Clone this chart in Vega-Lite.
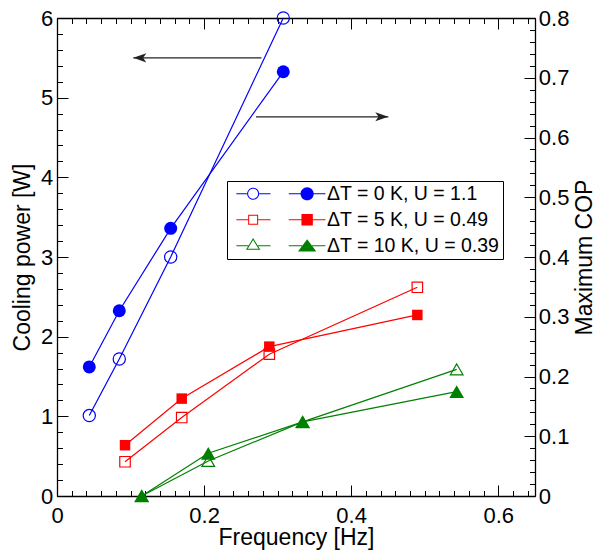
{
  "$schema": "https://vega.github.io/schema/vega-lite/v6.json",
  "width": 478,
  "height": 478,
  "autosize": "none",
  "padding": {"left": 57, "top": 18, "right": 60, "bottom": 56},
  "config": {
    "view": {"stroke": null},
    "font": "Liberation Sans",
    "axis": {
      "grid": false,
      "ticks": false,
      "domainColor": "black",
      "domainWidth": 1.3,
      "tickColor": "black",
      "tickWidth": 1,
      "labelFont": "Liberation Sans",
      "labelFontSize": 22,
      "labelColor": "black",
      "titleFont": "Liberation Sans",
      "titleFontSize": 23,
      "titleFontWeight": "normal",
      "titleColor": "black",
      "labelFlush": false,
      "labelOverlap": false
    }
  },
  "datasets": {
    "pts": [
      {"series": "ΔT = 0 K, U = 1.1", "dT": 0, "kind": "power", "f": 0.0439, "v": 1.01},
      {"series": "ΔT = 0 K, U = 1.1", "dT": 0, "kind": "power", "f": 0.0847, "v": 1.72},
      {"series": "ΔT = 0 K, U = 1.1", "dT": 0, "kind": "power", "f": 0.1546, "v": 3.0},
      {"series": "ΔT = 0 K, U = 1.1", "dT": 0, "kind": "power", "f": 0.3077, "v": 6.0},
      {"series": "ΔT = 0 K, U = 1.1", "dT": 0, "kind": "cop", "f": 0.0439, "v": 0.216},
      {"series": "ΔT = 0 K, U = 1.1", "dT": 0, "kind": "cop", "f": 0.0847, "v": 0.31},
      {"series": "ΔT = 0 K, U = 1.1", "dT": 0, "kind": "cop", "f": 0.1546, "v": 0.448},
      {"series": "ΔT = 0 K, U = 1.1", "dT": 0, "kind": "cop", "f": 0.3077, "v": 0.71},
      {"series": "ΔT = 5 K, U = 0.49", "dT": 5, "kind": "power", "f": 0.0925, "v": 0.43},
      {"series": "ΔT = 5 K, U = 0.49", "dT": 5, "kind": "power", "f": 0.1696, "v": 0.985},
      {"series": "ΔT = 5 K, U = 0.49", "dT": 5, "kind": "power", "f": 0.2887, "v": 1.78},
      {"series": "ΔT = 5 K, U = 0.49", "dT": 5, "kind": "power", "f": 0.49, "v": 2.62},
      {"series": "ΔT = 5 K, U = 0.49", "dT": 5, "kind": "cop", "f": 0.0925, "v": 0.085},
      {"series": "ΔT = 5 K, U = 0.49", "dT": 5, "kind": "cop", "f": 0.1696, "v": 0.163},
      {"series": "ΔT = 5 K, U = 0.49", "dT": 5, "kind": "cop", "f": 0.2887, "v": 0.25},
      {"series": "ΔT = 5 K, U = 0.49", "dT": 5, "kind": "cop", "f": 0.49, "v": 0.303},
      {"series": "ΔT = 10 K, U = 0.39", "dT": 10, "kind": "power", "f": 0.1152, "v": 0.0},
      {"series": "ΔT = 10 K, U = 0.39", "dT": 10, "kind": "power", "f": 0.2057, "v": 0.44},
      {"series": "ΔT = 10 K, U = 0.39", "dT": 10, "kind": "power", "f": 0.334, "v": 0.93},
      {"series": "ΔT = 10 K, U = 0.39", "dT": 10, "kind": "power", "f": 0.5435, "v": 1.59},
      {"series": "ΔT = 10 K, U = 0.39", "dT": 10, "kind": "cop", "f": 0.1152, "v": 0.0},
      {"series": "ΔT = 10 K, U = 0.39", "dT": 10, "kind": "cop", "f": 0.2057, "v": 0.0715},
      {"series": "ΔT = 10 K, U = 0.39", "dT": 10, "kind": "cop", "f": 0.334, "v": 0.124},
      {"series": "ΔT = 10 K, U = 0.39", "dT": 10, "kind": "cop", "f": 0.5435, "v": 0.1746}
    ],
    "arrows": [
      {"from": 0.278, "to": 0.1038, "y": 5.5},
      {"from": 0.2706, "to": 0.4505, "y": 4.76}
    ]
  },
  "layer": [
    {
      "data": {"name": "pts"},
      "transform": [{"filter": "datum.kind === 'power'"}],
      "encoding": {
        "x": {"field": "f", "type": "quantitative", "scale": {"domain": [0, 0.65], "nice": false},
          "axis": {"orient": "bottom", "values": [0, 0.2, 0.4, 0.6], "format": "~g", "labelPadding": 9, "title": "Frequency [Hz]", "titlePadding": 0}},
        "y": {"field": "v", "type": "quantitative", "scale": {"domain": [0, 6], "nice": false},
          "axis": {"orient": "left", "values": [0, 1, 2, 3, 4, 5, 6], "format": "~g", "labelPadding": 4.3, "title": "Cooling power [W]", "titlePadding": 6.4}},
        "color": {"field": "series", "type": "nominal",
          "scale": {"domain": ["ΔT = 0 K, U = 1.1", "ΔT = 5 K, U = 0.49", "ΔT = 10 K, U = 0.39"], "range": ["#0000ff", "#ff0000", "#008000"]},
          "legend": null}
      },
      "layer": [
        {"mark": {"type": "line", "strokeWidth": 1.2}},
        {"transform": [{"filter": "datum.dT === 0"}], "mark": {"type": "point", "shape": "circle", "filled": false, "size": 150, "strokeWidth": 1.2, "opacity": 1}},
        {"transform": [{"filter": "datum.dT === 5"}], "mark": {"type": "point", "shape": "square", "filled": false, "size": 110, "strokeWidth": 1.2, "opacity": 1}},
        {"transform": [{"filter": "datum.dT === 10"}], "mark": {"type": "point", "shape": "triangle-up", "filled": false, "size": 160, "strokeWidth": 1.2, "opacity": 1}}
      ]
    },
    {
      "data": {"name": "pts"},
      "transform": [{"filter": "datum.kind === 'cop'"}],
      "encoding": {
        "x": {"field": "f", "type": "quantitative", "scale": {"domain": [0, 0.65], "nice": false},
          "axis": {"orient": "top", "values": [0, 0.2, 0.4, 0.6], "labels": false, "title": null}},
        "y": {"field": "v", "type": "quantitative", "scale": {"domain": [0, 0.8], "nice": false},
          "axis": {"orient": "right", "values": [0, 0.1, 0.2, 0.3, 0.4, 0.5, 0.6, 0.7, 0.8], "format": "~g", "labelPadding": 3.3, "title": "Maximum COP", "titleAngle": 270, "titleBaseline": "top", "titlePadding": 4.4}},
        "color": {"field": "series", "type": "nominal",
          "scale": {"domain": ["ΔT = 0 K, U = 1.1", "ΔT = 5 K, U = 0.49", "ΔT = 10 K, U = 0.39"], "range": ["#0000ff", "#ff0000", "#008000"]},
          "legend": null}
      },
      "layer": [
        {"mark": {"type": "line", "strokeWidth": 1.2}},
        {"transform": [{"filter": "datum.dT === 0"}], "mark": {"type": "point", "shape": "circle", "filled": true, "size": 169, "opacity": 1}},
        {"transform": [{"filter": "datum.dT === 5"}], "mark": {"type": "point", "shape": "square", "filled": true, "size": 110, "opacity": 1}},
        {"transform": [{"filter": "datum.dT === 10"}], "mark": {"type": "point", "shape": "triangle-up", "filled": true, "size": 215, "opacity": 1}}
      ]
    },
    {
      "data": {"values": []},
      "mark": "point",
      "encoding": {
        "x": {"field": "f", "type": "quantitative", "scale": {"domain": [0, 0.65], "nice": false},
          "axis": {"orient": "top", "offset": -478, "values": [0, 0.2, 0.4, 0.6], "ticks": true, "tickSize": 11, "labels": false, "domain": false, "title": null}},
        "y": {"field": "v", "type": "quantitative", "scale": {"domain": [0, 6], "nice": false},
          "axis": {"orient": "right", "offset": -478, "values": [0, 1, 2, 3, 4, 5, 6], "ticks": true, "tickSize": 11, "labels": false, "domain": false, "title": null}}
      }
    },
    {
      "data": {"values": []},
      "mark": "point",
      "encoding": {
        "x": {"field": "f", "type": "quantitative", "scale": {"domain": [0, 0.65], "nice": false},
          "axis": {"orient": "top", "offset": -478, "tickCount": 33, "ticks": true, "tickSize": 5.5, "labels": false, "domain": false, "title": null}},
        "y": {"field": "v", "type": "quantitative", "scale": {"domain": [0, 6], "nice": false},
          "axis": {"orient": "right", "offset": -478, "tickCount": 30, "ticks": true, "tickSize": 5.5, "labels": false, "domain": false, "title": null}}
      }
    },
    {
      "data": {"values": []},
      "mark": "point",
      "encoding": {
        "x": {"field": "f", "type": "quantitative", "scale": {"domain": [0, 0.65], "nice": false},
          "axis": {"orient": "bottom", "offset": -478, "tickCount": 33, "ticks": true, "tickSize": 5.5, "labels": false, "domain": false, "title": null}},
        "y": {"field": "v", "type": "quantitative", "scale": {"domain": [0, 0.8], "nice": false},
          "axis": {"orient": "left", "offset": -478, "values": [0, 0.1, 0.2, 0.3, 0.4, 0.5, 0.6, 0.7, 0.8], "ticks": true, "tickSize": 11, "labels": false, "domain": false, "title": null}}
      }
    },
    {
      "data": {"values": []},
      "mark": "point",
      "encoding": {
        "x": {"field": "f", "type": "quantitative", "scale": {"domain": [0, 0.65], "nice": false},
          "axis": {"orient": "bottom", "offset": -478, "values": [0, 0.2, 0.4, 0.6], "ticks": true, "tickSize": 11, "labels": false, "domain": false, "title": null}},
        "y": {"field": "v", "type": "quantitative", "scale": {"domain": [0, 0.8], "nice": false},
          "axis": {"orient": "left", "offset": -478, "tickCount": 40, "ticks": true, "tickSize": 5.5, "labels": false, "domain": false, "title": null}}
      }
    },
    {
      "data": {"name": "arrows"},
      "encoding": {
        "y": {"field": "y", "type": "quantitative", "scale": {"domain": [0, 6], "nice": false}, "axis": null}
      },
      "layer": [
        {"mark": {"type": "rule", "color": "#222222", "strokeWidth": 1.3},
          "encoding": {"x": {"field": "from", "type": "quantitative", "scale": {"domain": [0, 0.65], "nice": false}, "axis": null}, "x2": {"field": "to"}}},
        {"mark": {"type": "point", "filled": true, "color": "#222222", "size": 169, "opacity": 1},
          "encoding": {"x": {"field": "to", "type": "quantitative", "scale": {"domain": [0, 0.65], "nice": false}, "axis": null},
            "shape": {"condition": {"test": "datum.to < datum.from", "value": "M0,0L2,-0.7L1.5,0L2,0.7Z"}, "value": "M0,0L-2,-0.7L-1.5,0L-2,0.7Z"}}}
      ]
    },
    {
      "data": {"name": "pts"},
      "transform": [{"filter": "datum.f < 0"}],
      "mark": {"type": "point", "filled": true, "size": 144, "opacity": 1, "strokeWidth": 0,
        "color": {"expr": "datum.value === 'ΔT = 0 K, U = 1.1' ? '#0000ff' : (datum.value === 'ΔT = 5 K, U = 0.49' ? '#ff0000' : '#008000')"}},
      "encoding": {
        "x": {"field": "f", "type": "quantitative", "scale": {"domain": [0, 0.65], "nice": false}, "axis": null},
        "y": {"field": "v", "type": "quantitative", "scale": {"domain": [0, 0.8], "nice": false}, "axis": null},
        "shape": {"field": "series", "type": "nominal",
          "scale": {"domain": ["ΔT = 0 K, U = 1.1", "ΔT = 5 K, U = 0.49", "ΔT = 10 K, U = 0.39"],
            "range": [
              "M-2.8,-0.09H-1V0.09H-2.8Z M1,-0.09H2.9V0.09H1Z M1,0A1,1 0 1,1 -1,0A1,1 0 1,1 1,0Z M0.83,0A0.83,0.83 0 1,0 -0.83,0A0.83,0.83 0 1,0 0.83,0Z M5.93,-0.09H7.9V0.09H5.93Z M10.1,-0.09H12.05V0.09H10.1Z M10.1,0A1.1,1.1 0 1,1 7.9,0A1.1,1.1 0 1,1 10.1,0Z",
              "M-2.8,-0.09H-0.83V0.09H-2.8Z M0.83,-0.09H2.9V0.09H0.83Z M-0.83,-0.83H0.83V0.83H-0.83Z M-0.66,-0.66V0.66H0.66V-0.66Z M5.93,-0.09H8.05V0.09H5.93Z M9.95,-0.09H12.05V0.09H9.95Z M8.05,-0.95H9.95V0.95H8.05Z",
              "M-2.8,-0.09H-0.79V0.09H-2.8Z M0.79,-0.09H2.9V0.09H0.79Z M0,-1.28L1.2,0.67L-1.2,0.67Z M0,-0.955L-0.895,0.5L0.895,0.5Z M5.93,-0.09H8.18V0.09H5.93Z M9.82,-0.09H12.05V0.09H9.82Z M9,-1.1L10.53,0.95L7.47,0.95Z"
            ]},
          "legend": {"orient": "none", "legendX": 170, "legendY": 163, "title": null, "strokeColor": "black", "fillColor": "white", "padding": 3, "labelFont": "Liberation Sans", "labelFontSize": 19.5, "labelColor": "black", "labelOffset": 64, "symbolOffset": 13.4, "symbolSize": 144, "rowPadding": 5, "symbolStrokeWidth": 0, "labelLimit": 400}}
      }
    }
  ],
  "resolve": {"scale": {"x": "independent", "y": "independent", "color": "independent"}}
}
